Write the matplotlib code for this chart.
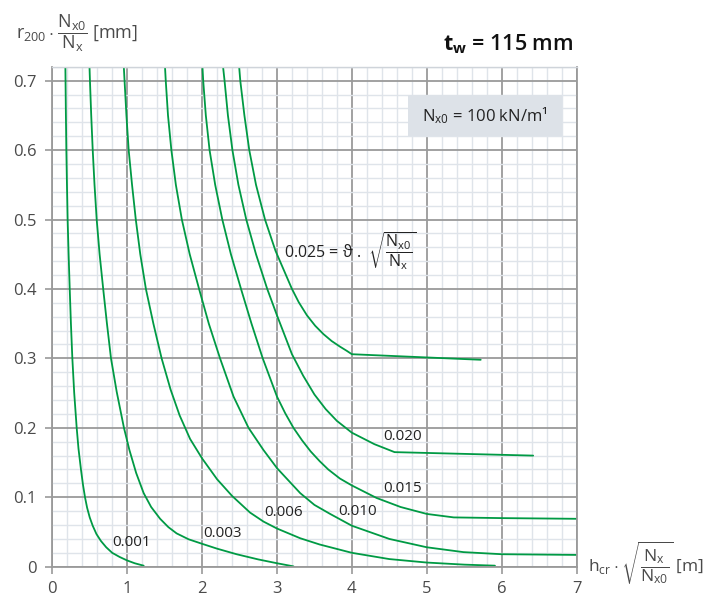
import matplotlib
matplotlib.use("Agg")
import matplotlib.pyplot as plt
from matplotlib.ticker import MultipleLocator, FuncFormatter
from matplotlib.patches import Rectangle

plt.rcParams['font.family'] = ['Open Sans', 'DejaVu Sans']
plt.rcParams['mathtext.fontset'] = 'custom'
plt.rcParams['mathtext.rm'] = 'Open Sans'
plt.rcParams['mathtext.it'] = 'Open Sans'
plt.rcParams['mathtext.bf'] = 'Open Sans:bold'

# curve parameter values (theta * sqrt(Nx0/Nx))
labels = ["0.001", "0.003", "0.006", "0.010", "0.015", "0.020", "0.025"]

# h_cr * sqrt(Nx/Nx0) [m]  and  r200 * Nx0/Nx [mm]
x_001 = [0.175, 0.177, 0.182, 0.188, 0.196, 0.205, 0.218, 0.233, 0.249, 0.268, 0.293,
         0.326, 0.35, 0.383, 0.41, 0.437, 0.465, 0.50, 0.54, 0.59, 0.65, 0.72, 0.80,
         0.90, 1.0, 1.1, 1.22]
y_001 = [0.72, 0.70, 0.65, 0.60, 0.55, 0.50, 0.45, 0.40, 0.35, 0.30, 0.25,
         0.20, 0.17, 0.14, 0.118, 0.10, 0.085, 0.071, 0.059, 0.047, 0.037, 0.028, 0.020,
         0.014, 0.009, 0.005, 0.0015]

x_003 = [0.497, 0.503, 0.52, 0.54, 0.564, 0.593, 0.632, 0.68, 0.73, 0.784, 0.86, 0.957,
         1.03, 1.12, 1.22, 1.32, 1.44, 1.55, 1.66, 1.82, 2.0, 2.2, 2.46, 2.75, 3.0, 3.22]
y_003 = [0.72, 0.70, 0.65, 0.60, 0.55, 0.50, 0.45, 0.40, 0.35, 0.30, 0.252, 0.20,
         0.168, 0.135, 0.106, 0.086, 0.069, 0.057, 0.048, 0.0395, 0.033, 0.026, 0.018,
         0.0105, 0.005, 0.0005]

x_006 = [0.955, 0.965, 0.99, 1.02, 1.065, 1.115, 1.175, 1.25, 1.35, 1.46, 1.58, 1.70,
         1.84, 2.0, 2.2, 2.4, 2.64, 2.82, 3.0, 3.31, 3.57, 4.0, 4.5, 5.0, 5.5, 5.91]
y_006 = [0.72, 0.70, 0.65, 0.60, 0.55, 0.50, 0.45, 0.40, 0.35, 0.30, 0.255, 0.218,
         0.184, 0.156, 0.126, 0.102, 0.078, 0.065, 0.055, 0.041, 0.032, 0.020, 0.011,
         0.006, 0.003, 0.0015]

x_010 = [1.505, 1.515, 1.545, 1.59, 1.65, 1.73, 1.835, 1.96, 2.09, 2.24, 2.42, 2.62,
         2.82, 3.0, 3.31, 3.5, 3.71, 4.0, 4.5, 5.0, 5.49, 6.0, 7.0]
y_010 = [0.72, 0.70, 0.65, 0.60, 0.55, 0.50, 0.45, 0.40, 0.35, 0.30, 0.245, 0.20,
         0.168, 0.142, 0.106, 0.089, 0.076, 0.059, 0.040, 0.028, 0.021, 0.018, 0.017]

x_015 = [2.005, 2.015, 2.05, 2.10, 2.175, 2.27, 2.385, 2.52, 2.66, 2.81, 3.0, 3.11,
         3.22, 3.335, 3.45, 3.57, 3.685, 3.84, 4.0, 4.33, 4.65, 5.0, 5.36, 6.0, 7.0]
y_015 = [0.72, 0.70, 0.65, 0.60, 0.55, 0.50, 0.45, 0.40, 0.35, 0.30, 0.245, 0.221,
         0.20, 0.182, 0.166, 0.152, 0.14, 0.127, 0.117, 0.099, 0.086, 0.076, 0.071,
         0.070, 0.069]

x_020 = [2.28, 2.30, 2.345, 2.405, 2.485, 2.59, 2.72, 2.87, 3.0, 3.2, 3.35, 3.5, 3.65,
         3.8, 4.0, 4.3, 4.57, 6.42]
y_020 = [0.72, 0.70, 0.65, 0.60, 0.55, 0.50, 0.45, 0.40, 0.362, 0.306, 0.275, 0.248,
         0.227, 0.210, 0.193, 0.1765, 0.165, 0.160]

x_025 = [2.495, 2.51, 2.565, 2.63, 2.72, 2.84, 2.98, 3.20, 3.29, 3.40, 3.51, 3.62,
         3.73, 3.84, 3.93, 4.0, 5.72]
y_025 = [0.72, 0.70, 0.65, 0.60, 0.55, 0.50, 0.455, 0.40, 0.381, 0.362, 0.347, 0.335,
         0.325, 0.317, 0.311, 0.306, 0.298]

curves = [(x_001, y_001), (x_003, y_003), (x_006, y_006), (x_010, y_010),
          (x_015, y_015), (x_020, y_020), (x_025, y_025)]

# label anchor points (data coords)
label_pos = [(1.064, 0.035), (2.27, 0.048), (3.09, 0.078), (4.08, 0.079),
             (4.68, 0.112), (4.68, 0.188)]

GREEN = '#009a44'
MAJOR = '#9a9a9a'
MINOR = '#dfe4ea'
TXT = '#4a4a4a'

fig = plt.figure(figsize=(7.2, 5.99), dpi=100)
ax = fig.add_axes([0.0726, 0.0539, 0.7282, 0.8347])

ax.set_xlim(0, 7)
ax.set_ylim(0, 0.72)
ax.xaxis.set_major_locator(MultipleLocator(1))
ax.xaxis.set_minor_locator(MultipleLocator(0.2))
ax.yaxis.set_major_locator(MultipleLocator(0.1))
ax.yaxis.set_minor_locator(MultipleLocator(0.02))
ax.xaxis.set_major_formatter(FuncFormatter(lambda v, p: f"{v:g}"))
ax.yaxis.set_major_formatter(FuncFormatter(lambda v, p: f"{v:.1f}" if v > 0 else "0"))

ax.set_axisbelow(True)
ax.grid(which='minor', color=MINOR, lw=1.0)
ax.grid(which='major', color=MAJOR, lw=1.3)

ax.tick_params(which='major', length=5, width=1.2, color=MAJOR, labelsize=12,
               labelcolor=TXT)
ax.tick_params(axis='x', which='major', pad=5)
ax.tick_params(axis='y', which='major', pad=6)
ax.tick_params(which='minor', length=0)

for side in ('left', 'bottom', 'right'):
    ax.spines[side].set_color(MAJOR)
    ax.spines[side].set_linewidth(1.3)
ax.spines['top'].set_color('#cfd4da')
ax.spines['top'].set_linewidth(1.0)

for xs, ys in curves:
    ax.plot(xs, ys, color=GREEN, lw=1.3, solid_joinstyle='round',
            solid_capstyle='round', clip_on=True)

for (lx, ly), txt in zip(label_pos, labels[:6]):
    ax.text(lx, ly, txt, ha='center', va='center', fontsize=11, color='#222222')

ax.text(3.09, 0.455,
        r'0.025 = $\vartheta$ .  $\sqrt{\dfrac{\mathrm{N}_{x0}}{\mathrm{N}_{x}}}$',
        ha='left', va='center', fontsize=11.5, color='#222222')

# load box
ax.add_patch(Rectangle((4.745, 0.6205), 2.055, 0.0595, facecolor='#dde2e8',
                       edgecolor='none', zorder=2))
ax.text(5.77, 0.650, r'N$_{x0}$ = 100 kN/m¹', ha='center', va='center',
        fontsize=12, color='#222222', zorder=3)

# title and axis titles
fig.text(573 / 720, 1 - 44 / 599, r'$\mathbf{t}_\mathbf{w}$ = 115 mm', ha='right',
         va='center', fontsize=15.5, fontweight='semibold', color='#111111')
fig.text(16 / 720, 1 - 33 / 599,
         r'$\mathrm{r}_{200}\cdot\dfrac{\mathrm{N}_{x0}}{\mathrm{N}_{x}}$ [mm]',
         ha='left', va='center', fontsize=13, color=TXT)
fig.text(588 / 720, 1 - 563 / 599,
         r'$\mathrm{h}_{cr}\cdot\sqrt{\dfrac{\mathrm{N}_{x}}{\mathrm{N}_{x0}}}$ [m]',
         ha='left', va='center', fontsize=12.5, color=TXT)

fig.savefig('out.png', dpi=100)
